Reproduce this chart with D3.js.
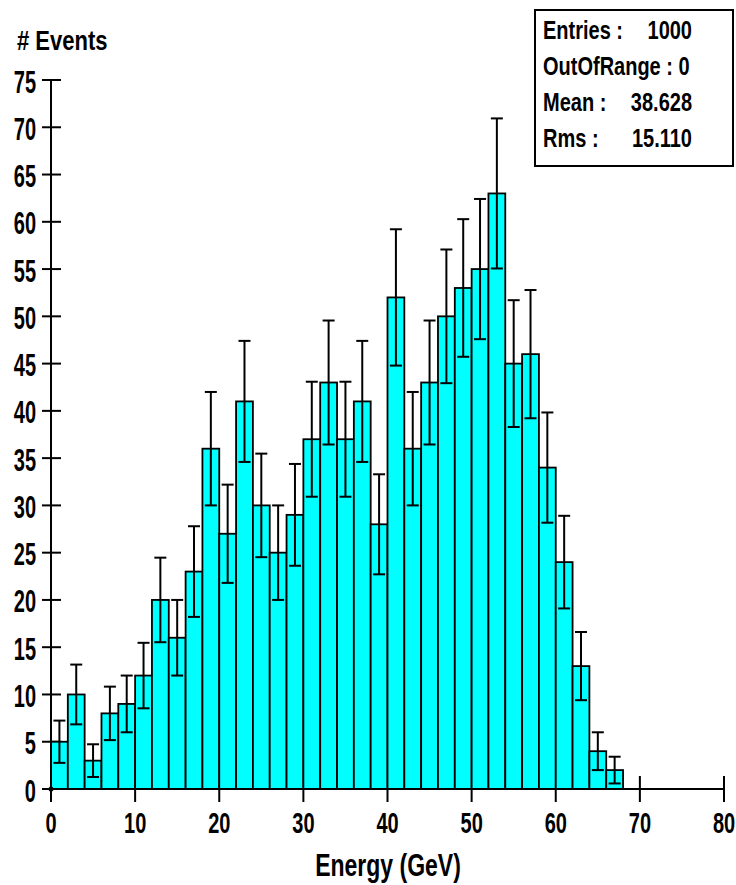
<!DOCTYPE html>
<html>
<head>
<meta charset="utf-8">
<script src="https://cdn.jsdelivr.net/npm/d3@7"></script>
<style>
  body { margin: 0; background: #fff; }
  svg text { font-family: "Liberation Sans", Arial, sans-serif; font-weight: bold; fill: #000; }
</style>
</head>
<body>
<div id="chart"></div>
<script>
// histogram bins (lower edge, GeV) and counts
var binLow = [0, 2, 4, 6, 8, 10, 12, 14, 16, 18, 20, 22, 24, 26, 28, 30, 32,
              34, 36, 38, 40, 42, 44, 46, 48, 50, 52, 54, 56, 58, 60, 62, 64, 66];
var counts = [5, 10, 3, 8, 9, 12, 20, 16, 23, 36, 27, 41, 30, 25, 29, 37, 43,
              37, 41, 28, 52, 36, 43, 50, 53, 55, 63, 45, 46, 34, 24, 13, 4, 2];
var binWidth = 2;

var xTicks = [0, 10, 20, 30, 40, 50, 60, 70, 80];
var yTicks = [0, 5, 10, 15, 20, 25, 30, 35, 40, 45, 50, 55, 60, 65, 70, 75];

var statLabels = ["Entries :", "OutOfRange : 0", "Mean :", "Rms :"];
var statValues = ["1000", "", "38.628", "15.110"];

var width = 736, height = 885;

var svg = d3.select("#chart").append("svg")
    .attr("width", width)
    .attr("height", height);

var x = d3.scaleLinear().domain([0, 80]).range([51, 724]);
var y = d3.scaleLinear().domain([0, 75]).range([789, 80]);

// the original text is tall and narrow, so stretch it vertically
function label(g, px, py, s, anchor, size, sy) {
    return g.append("text")
        .attr("transform", "translate(" + px + "," + py + ") scale(1," + (sy || 1.5) + ")")
        .attr("text-anchor", anchor || "start")
        .style("font-size", (size || 20) + "px")
        .text(s);
}

// ticks cross the axis, bars get drawn on top of them
var ticks = svg.append("g").attr("stroke", "#000").attr("stroke-width", 2);
ticks.selectAll(".yt").data(yTicks).enter().append("line")
    .attr("x1", 42).attr("x2", 61)
    .attr("y1", d => y(d)).attr("y2", d => y(d));
ticks.selectAll(".xt").data(xTicks).enter().append("line")
    .attr("x1", d => x(d)).attr("x2", d => x(d))
    .attr("y1", 776).attr("y2", 802);

var labels = svg.append("g");
yTicks.forEach(function(d) { label(labels, 36, y(d) + 12.5, d, "end", 20, 1.6); });
xTicks.forEach(function(d) { label(labels, x(d), 833, d, "middle", 20, 1.5); });

label(labels, 17, 50, "# Events", "start", 22, 1.25);
label(labels, 388, 876, "Energy (GeV)", "middle", 23, 1.4);

// bars
svg.append("g").selectAll("rect")
    .data(counts)
    .enter().append("rect")
    .attr("x", (d, i) => x(binLow[i]))
    .attr("y", d => y(d))
    .attr("width", (d, i) => x(binLow[i] + binWidth) - x(binLow[i]))
    .attr("height", d => y(0) - y(d))
    .style("fill", "#00ffff")
    .style("stroke", "#000")
    .style("stroke-width", 1.8);

// poisson error bars
var err = svg.append("g").attr("stroke", "#000").attr("stroke-width", 2);
counts.forEach(function(d, i) {
    var cx = x(binLow[i] + binWidth / 2), e = Math.sqrt(d);
    var top = y(d + e), bot = y(d - e);
    err.append("line").attr("x1", cx).attr("x2", cx).attr("y1", top).attr("y2", bot);
    err.append("line").attr("x1", cx - 6).attr("x2", cx + 6).attr("y1", top).attr("y2", top);
    err.append("line").attr("x1", cx - 6).attr("x2", cx + 6).attr("y1", bot).attr("y2", bot);
});

// axis lines
var axes = svg.append("g").attr("stroke", "#000").attr("stroke-width", 2);
axes.append("line").attr("x1", x(0)).attr("x2", x(0)).attr("y1", y(75)).attr("y2", y(0));
axes.append("line").attr("x1", x(0)).attr("x2", x(80)).attr("y1", y(0)).attr("y2", y(0));
svg.append("circle").attr("cx", x(0)).attr("cy", y(0)).attr("r", 2.5).style("fill", "#000");

// stats box
var box = svg.append("g");
box.append("rect")
    .attr("x", 535).attr("y", 10).attr("width", 198).attr("height", 156)
    .style("fill", "#fff").style("stroke", "#000").style("stroke-width", 2);
statLabels.forEach(function(s, i) {
    var by = 38.5 + i * 36.3;
    label(box, 543, by, s, "start", 20, 1.3);
    if (statValues[i]) label(box, 692, by, statValues[i], "end", 20, 1.3);
});
</script>
</body>
</html>
